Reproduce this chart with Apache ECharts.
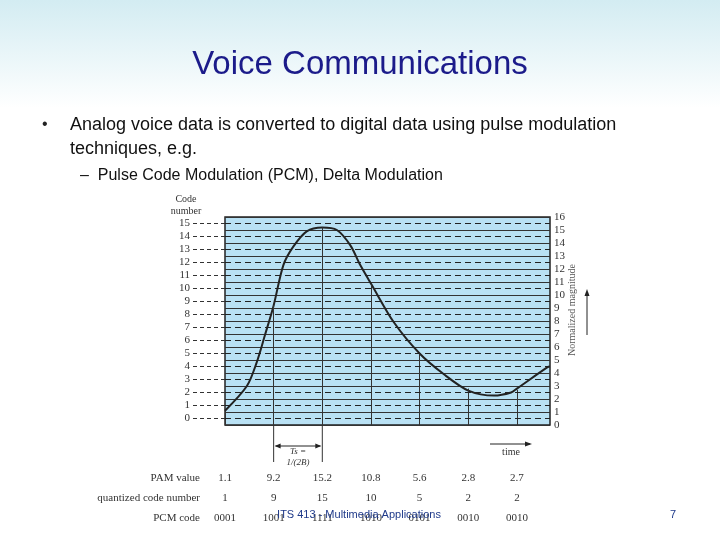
<!DOCTYPE html>
<html><head><meta charset="utf-8">
<script src="https://cdn.jsdelivr.net/npm/echarts@6/dist/echarts.min.js"></script>
<style>html,body{margin:0;padding:0}#c{width:720px;height:540px}</style>
</head><body><div id="c"></div>
<script>
// signal curve, time in sample periods
var curveT = [0, 0.45, 0.65, 0.82, 1.0, 1.2, 1.4, 1.68, 2.0, 2.3, 2.58, 2.78, 3.02, 3.47, 4.0, 4.5, 5.0, 5.53, 5.88, 6.0, 6.63, 6.68];
var curveV = [1.1, 3.0, 4.8, 6.9, 9.2, 12.3, 13.7, 14.9, 15.2, 15.0, 13.8, 12.3, 10.75, 7.9, 5.5, 3.9, 2.65, 2.26, 2.5, 2.8, 4.45, 4.5];
var pamValues = [1.1, 9.2, 15.2, 10.8, 5.6, 2.8, 2.7];
var codeNumbers = [1, 9, 15, 10, 5, 2, 2];
var pcmCodes = ['0001', '1001', '1111', '1010', '0101', '0010', '0010'];
var codeLevels = [0, 1, 2, 3, 4, 5, 6, 7, 8, 9, 10, 11, 12, 13, 14, 15];

var chart = echarts.init(document.getElementById('c'));
var serif = 'Liberation Serif';
var sampleLines = pamValues.map(function(v, i) {
    return [{coord: [i, 0]}, {coord: [i, v]}];
});
var dashLines = codeLevels.map(function(n) { return {yAxis: n + 0.5}; });

var option = {
    backgroundColor: new echarts.graphic.LinearGradient(0, 0, 0, 1, [
        {offset: 0, color: '#d3ecf2'}, {offset: 0.2, color: '#ffffff'}, {offset: 1, color: '#ffffff'}
    ]),
    animation: false,
    title: {
        text: 'Voice Communications', left: 'center', top: 43,
        textStyle: {fontFamily: 'Liberation Sans', fontSize: 33, fontWeight: 'normal', color: '#1b1b8a'}
    },
    grid: {left: 225, right: 170, top: 217, bottom: 115, show: true, backgroundColor: '#b9e1f4', borderColor: '#222', borderWidth: 1.5},
    xAxis: {type: 'value', min: 0, max: 6.68, show: false},
    yAxis: {
        type: 'value', min: 0, max: 16, interval: 1, position: 'right',
        axisLine: {show: false}, axisTick: {show: false},
        axisLabel: {fontFamily: serif, fontSize: 11, color: '#333', margin: 4},
        splitLine: {lineStyle: {color: '#333', width: 1}}
    },
    series: [{
        type: 'line', smooth: 0.3, showSymbol: false,
        data: curveT.map(function(t, i) { return [t, curveV[i]]; }),
        lineStyle: {color: '#222', width: 2},
        markLine: {
            silent: true, symbol: 'none',
            lineStyle: {color: '#333', width: 1, type: 'solid'},
            label: {show: false},
            data: sampleLines
        }
    }, {
        type: 'line', data: [],
        markLine: {
            silent: true, symbol: 'none',
            lineStyle: {color: '#222', width: 1.2, type: [6, 4]},
            label: {show: false},
            data: dashLines
        }
    }]
};
chart.setOption(option);

var p0 = chart.convertToPixel({gridIndex: 0}, [0, 0]);
var graphics = [];
codeLevels.forEach(function(n) {
    var y = chart.convertToPixel({gridIndex: 0}, [0, n + 0.5])[1];
    graphics.push({type: 'line', shape: {x1: 193, y1: y, x2: p0[0], y2: y}, style: {stroke: '#333', lineWidth: 1, lineDash: [4, 3]}});
    graphics.push({type: 'text', x: 190, y: y, style: {text: String(n), fontFamily: serif, fontSize: 11, fill: '#333', align: 'right', verticalAlign: 'middle'}});
});
var rowY = [478, 498, 518];
var rowNames = ['PAM value', 'quantized code number', 'PCM code'];
var rows = [pamValues, codeNumbers, pcmCodes];
rowNames.forEach(function(name, r) {
    graphics.push({type: 'text', x: 200, y: rowY[r], style: {text: name, fontFamily: serif, fontSize: 11, fill: '#333', align: 'right', verticalAlign: 'middle'}});
    rows[r].forEach(function(v, i) {
        var x = chart.convertToPixel({gridIndex: 0}, [i, 0])[0];
        graphics.push({type: 'text', x: x, y: rowY[r], style: {text: String(v), fontFamily: serif, fontSize: 11, fill: '#333', align: 'center', verticalAlign: 'middle'}});
    });
});
var x1 = chart.convertToPixel({gridIndex: 0}, [1, 0])[0];
var x2 = chart.convertToPixel({gridIndex: 0}, [2, 0])[0];
graphics.push(
    {type: 'line', shape: {x1: x1, y1: p0[1], x2: x1, y2: 462}, style: {stroke: '#333', lineWidth: 1}},
    {type: 'line', shape: {x1: x2, y1: p0[1], x2: x2, y2: 462}, style: {stroke: '#333', lineWidth: 1}},
    {type: 'text', x: 186, y: 205, style: {text: 'Code\nnumber', fontFamily: serif, fontSize: 10, fill: '#333', align: 'center', verticalAlign: 'middle', lineHeight: 12}},
    {type: 'line', shape: {x1: x1 + 2, y1: 446, x2: x2 - 2, y2: 446}, style: {stroke: '#222', lineWidth: 1}},
    {type: 'polygon', shape: {points: [[x1 + 1, 446], [x1 + 7, 443.5], [x1 + 7, 448.5]]}, style: {fill: '#222'}},
    {type: 'polygon', shape: {points: [[x2 - 1, 446], [x2 - 7, 443.5], [x2 - 7, 448.5]]}, style: {fill: '#222'}},
    {type: 'text', x: (x1 + x2) / 2, y: 457, style: {text: 'Ts =\n1/(2B)', fontFamily: serif, fontSize: 9, fontStyle: 'italic', fill: '#333', align: 'center', verticalAlign: 'middle', lineHeight: 11}},
    {type: 'line', shape: {x1: 490, y1: 444, x2: 530, y2: 444}, style: {stroke: '#222', lineWidth: 1}},
    {type: 'polygon', shape: {points: [[532, 444], [525, 441.5], [525, 446.5]]}, style: {fill: '#222'}},
    {type: 'text', x: 511, y: 452, style: {text: 'time', fontFamily: serif, fontSize: 10, fill: '#333', align: 'center', verticalAlign: 'middle'}},
    {type: 'text', x: 572, y: 310, rotation: Math.PI / 2, style: {text: 'Normalized magnitude', fontFamily: serif, fontSize: 10, fill: '#555', align: 'center', verticalAlign: 'middle'}},
    {type: 'line', shape: {x1: 587, y1: 335, x2: 587, y2: 292}, style: {stroke: '#222', lineWidth: 1}},
    {type: 'polygon', shape: {points: [[587, 289], [584.5, 296], [589.5, 296]]}, style: {fill: '#222'}},
    {type: 'text', x: 42, y: 125, style: {text: '•', fontFamily: 'Liberation Sans', fontSize: 16, fill: '#222', verticalAlign: 'middle'}},
    {type: 'text', x: 70, y: 125, style: {text: 'Analog voice data is converted to digital data using pulse modulation', fontFamily: 'Liberation Sans', fontSize: 18, fill: '#111', verticalAlign: 'middle'}},
    {type: 'text', x: 70, y: 149, style: {text: 'techniques, e.g.', fontFamily: 'Liberation Sans', fontSize: 18, fill: '#111', verticalAlign: 'middle'}},
    {type: 'text', x: 80, y: 176, style: {text: '–  Pulse Code Modulation (PCM), Delta Modulation', fontFamily: 'Liberation Sans', fontSize: 16, fill: '#111', verticalAlign: 'middle'}},
    {type: 'text', x: 359, y: 515, z: 10, style: {text: 'ITS 413 - Multimedia Applications', fontFamily: 'Liberation Sans', fontSize: 11, fill: '#1f3a8a', align: 'center', verticalAlign: 'middle'}},
    {type: 'text', x: 673, y: 515, style: {text: '7', fontFamily: 'Liberation Sans', fontSize: 11, fill: '#1f3a8a', align: 'center', verticalAlign: 'middle'}}
);
chart.setOption({graphic: graphics});
</script>
</body></html>
